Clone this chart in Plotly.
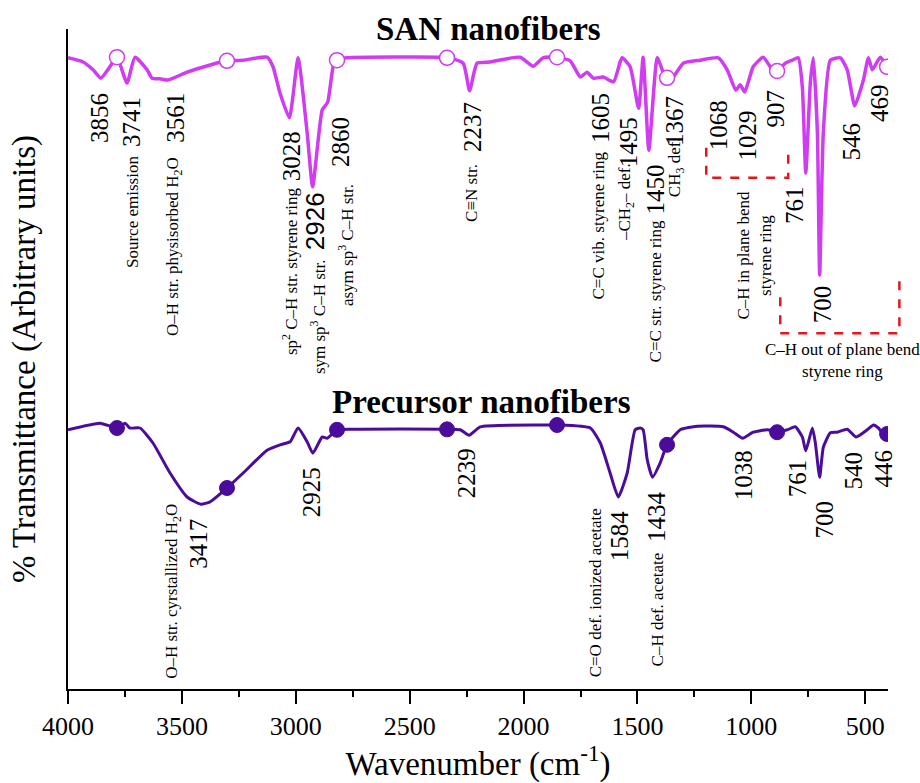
import numpy as np
import plotly.graph_objects as go

# ---------------- data ----------------
wn_san = [4000, 3934, 3890, 3856, 3816, 3785, 3741, 3706, 3653, 3631, 3596, 3561, 3477, 3376, 3302,
          3231, 3126, 3100, 3069, 3028, 2990, 2950, 2926, 2884, 2860, 2836, 2819, 2775, 2366, 2336,
          2265, 2237, 2204, 2147, 2015, 1958, 1914, 1852, 1795, 1751, 1721, 1694, 1650, 1605, 1576,
          1567, 1532, 1495, 1475, 1450, 1413, 1387, 1367, 1343, 1299, 1224, 1145, 1106, 1068, 1049,
          1029, 992, 948, 917, 907, 887, 851, 820, 794, 776, 761, 741, 728, 710, 700,
          684, 653, 609, 579, 546, 508, 486, 469, 434, 404]
t_san = [105.2, 104.5, 103.2, 101.8, 103.7, 105.3, 101.0, 105.3, 103.2, 101.8, 101.7, 101.5, 102.8, 104.0, 104.7,
         104.8, 105.3, 103.7, 99.3, 95.2, 105.2, 92.7, 83.7, 96.5, 97.8, 103.7, 104.8, 105.2, 105.3, 105.2,
         104.3, 99.7, 104.3, 104.5, 105.3, 103.8, 105.2, 105.3, 104.7, 102.0, 102.8, 101.8, 102.0, 101.2, 104.5,
         105.2, 103.7, 96.8, 105.3, 89.8, 105.2, 102.8, 101.7, 102.0, 104.3, 104.8, 105.2, 103.2, 99.8, 100.7,
         99.5, 103.7, 105.3, 103.7, 103.2, 103.0, 104.3, 104.8, 105.2, 100.3, 86.0, 101.0, 105.2, 92.7, 69.0,
         92.7, 104.8, 105.2, 103.2, 97.2, 101.5, 105.2, 103.2, 105.3, 103.7]

wn_pre = [4000, 3859, 3785, 3750, 3728, 3684, 3627, 3552, 3477, 3417, 3376, 3302, 3231, 3126, 3069,
          3025, 2990, 2950, 2925, 2884, 2862, 2819, 2718, 2353, 2278, 2239, 2190, 1927, 1852, 1707,
          1663, 1620, 1584, 1545, 1510, 1488, 1475, 1457, 1434, 1400, 1370, 1312, 1237, 1123, 1079,
          1038, 992, 930, 887, 842, 807, 776, 761, 732, 719, 700, 684, 653, 623, 579,
          540, 491, 464, 442, 425, 404]
t_pre = [43.2, 44.3, 43.5, 44.3, 43.5, 43.5, 41.0, 36.0, 32.0, 30.8, 31.2, 33.5, 36.0, 39.8, 40.7,
         41.2, 43.5, 41.2, 39.3, 42.0, 41.8, 43.2, 43.3, 43.3, 43.2, 42.3, 43.7, 44.0, 44.0, 43.5,
         41.0, 36.0, 32.0, 36.0, 43.2, 43.5, 43.2, 38.2, 35.3, 37.7, 40.7, 43.2, 43.8, 43.7, 42.8,
         41.8, 42.8, 43.2, 42.8, 43.2, 43.7, 42.0, 39.7, 43.5, 41.0, 35.3, 40.3, 42.7, 42.8, 43.3,
         42.0, 43.2, 44.0, 43.5, 42.7, 42.5]

marker_wn = [3785, 3302, 2819, 2336, 1853, 1370, 887, 404]

x_ticks = [4000, 3500, 3000, 2500, 2000, 1500, 1000, 500]

# peak labels: text, wavenumber position, value position
san_peaks = ["3856", "3741", "3561", "3028", "2860", "2237", "1605", "1495", "1450",
             "1367", "1068", "1029", "907", "761", "700", "546", "469"]
san_peak_x = [3859, 3723, 3526, 3021, 2801, 2221, 1663, 1540, 1422, 1334, 1145, 1018, 895, 807, 688, 561, 434]
san_peak_y = [95.2, 94.5, 95.2, 88.8, 91.2, 93.7, 95.2, 91.2, 83.3, 94.7, 94.0, 92.3, 96.8, 80.7, 64.2, 91.3, 97.7]

san_big = ["2926"]
san_big_x = [2915]
san_big_y = [78.0]

san_notes = ["Source emission", "O–H str. physisorbed H<sub>2</sub>O", "sp<sup>2</sup> C–H str. styrene ring",
             "sym sp<sup>3</sup> C–H str.", "asym sp<sup>3</sup> C–H str.", "C≡N str.", "C=C vib. styrene ring",
             "–CH<sub>2</sub>– def.", "C=C str. styrene ring", "CH<sub>3</sub> def.",
             "C–H in plane bend<br>styrene ring"]
san_notes_x = [3719, 3534, 3025, 2902, 2779, 2226, 1672, 1549, 1422, 1330, 987]
san_notes_y = [79.5, 73.7, 69.5, 62.0, 74.0, 82.7, 77.3, 81.2, 66.3, 87.0, 72.3]

oop_note = "C–H out of plane bend<br>styrene ring"
oop_x, oop_y = 601, 54.8

pre_peaks = ["3417", "2925", "2239", "1584", "1434", "1038", "761", "700", "540", "446"]
pre_peak_x = [3425, 2933, 2252, 1580, 1413, 1035, 798, 680, 552, 421]
pre_peak_y = [24.2, 32.8, 36.0, 25.5, 28.7, 35.7, 35.2, 28.3, 36.5, 36.8]

pre_notes = ["O–H str. cyrstallized H<sub>2</sub>O", "C=O def. ionized acetate", "C–H def. acetate"]
pre_notes_x = [3539, 1685, 1413]
pre_notes_y = [16.2, 16.0, 13.3]

# dashed brackets: (left wn, right wn, left top, right top, bottom)
brackets = [(1198, 838, 90.2, 90.2, 85.2), (873, 350, 65.3, 68.5, 59.3)]

XR = [4000, 400]
YR = [0, 110]

SAN_C = "#D03CF2"
PRE_C = "#4B0C9C"
SERIF = "Liberation Serif, Times New Roman, serif"

# ---------------- figure ----------------
fig = go.Figure()

fig.add_trace(go.Scatter(x=wn_san, y=t_san, mode="lines",
                         line=dict(color=SAN_C, width=3.5, shape="spline", smoothing=0.5),
                         hoverinfo="skip"))
fig.add_trace(go.Scatter(x=wn_pre, y=t_pre, mode="lines",
                         line=dict(color=PRE_C, width=3, shape="spline", smoothing=0.5),
                         hoverinfo="skip"))

san_mk = np.interp(marker_wn, wn_san[::-1], t_san[::-1])
pre_mk = np.interp(marker_wn, wn_pre[::-1], t_pre[::-1])
fig.add_trace(go.Scatter(x=marker_wn, y=san_mk, mode="markers",
                         marker=dict(symbol="circle", size=15, color="white",
                                     line=dict(color=SAN_C, width=1.5))))
fig.add_trace(go.Scatter(x=marker_wn, y=pre_mk, mode="markers",
                         marker=dict(symbol="circle", size=15, color=PRE_C,
                                     line=dict(color=PRE_C, width=1))))

ann = []


def rot(text, x, y, size, family=SERIF):
    ann.append(dict(text=text, x=x, y=y, xref="x", yref="y", showarrow=False, textangle=-90,
                    xanchor="center", yanchor="middle", align="center",
                    font=dict(family=family, size=size, color="black")))


for t, x, y in zip(san_peaks, san_peak_x, san_peak_y):
    rot(t, x, y, 25)
for t, x, y in zip(san_big, san_big_x, san_big_y):
    rot(t, x, y, 26, "Liberation Sans, Arial, sans-serif")
for t, x, y in zip(san_notes, san_notes_x, san_notes_y):
    rot(t, x, y, 17)
for t, x, y in zip(pre_peaks, pre_peak_x, pre_peak_y):
    rot(t, x, y, 25)
for t, x, y in zip(pre_notes, pre_notes_x, pre_notes_y):
    rot(t, x, y, 17)

ann.append(dict(text=oop_note, x=oop_x, y=oop_y, xref="x", yref="y", showarrow=False,
                xanchor="center", yanchor="middle", align="center",
                font=dict(family=SERIF, size=17, color="black")))
ann.append(dict(text="<b>SAN nanofibers</b>", x=2155, y=110, xref="x", yref="y", showarrow=False,
                xanchor="center", yanchor="middle", font=dict(family=SERIF, size=33, color="black")))
ann.append(dict(text="<b>Precursor nanofibers</b>", x=2186, y=47.8, xref="x", yref="y", showarrow=False,
                xanchor="center", yanchor="middle", font=dict(family=SERIF, size=33, color="black")))


def px_(w):
    return (XR[0] - w) / (XR[0] - XR[1])


def py_(v):
    return (v - YR[0]) / (YR[1] - YR[0])


shapes = []
for (l, r, lt, rt, b) in brackets:
    path = "M {},{} L {},{} L {},{} L {},{}".format(px_(l), py_(lt), px_(l), py_(b), px_(r), py_(b), px_(r), py_(rt))
    shapes.append(dict(type="path", path=path, xref="paper", yref="paper",
                       line=dict(color="#E3161B", width=2.5, dash="dash")))

fig.update_layout(
    width=920, height=783,
    margin=dict(l=68, r=32, t=29, b=94),
    paper_bgcolor="white", plot_bgcolor="white",
    showlegend=False,
    annotations=ann, shapes=shapes,
    xaxis=dict(range=XR, showgrid=False, zeroline=False, showline=True, linecolor="black", linewidth=2,
               ticks="outside", ticklen=13, tickwidth=2, tickcolor="black",
               tickvals=x_ticks, ticktext=[str(v) for v in x_ticks],
               tickfont=dict(family=SERIF, size=26, color="black"),
               minor=dict(ticks="outside", ticklen=6, tickwidth=2, tickcolor="black", dtick=250, tick0=0),
               title=dict(text="Wavenumber (cm<sup>-1</sup>)", font=dict(family=SERIF, size=33, color="black"),
                          standoff=8)),
    yaxis=dict(range=YR, showgrid=False, zeroline=False, showline=True, linecolor="black", linewidth=2,
               ticks="", showticklabels=False,
               title=dict(text="% Transmittance (Arbitrary units)",
                          font=dict(family=SERIF, size=33, color="black"), standoff=20)),
)

fig.write_html("out.html")
